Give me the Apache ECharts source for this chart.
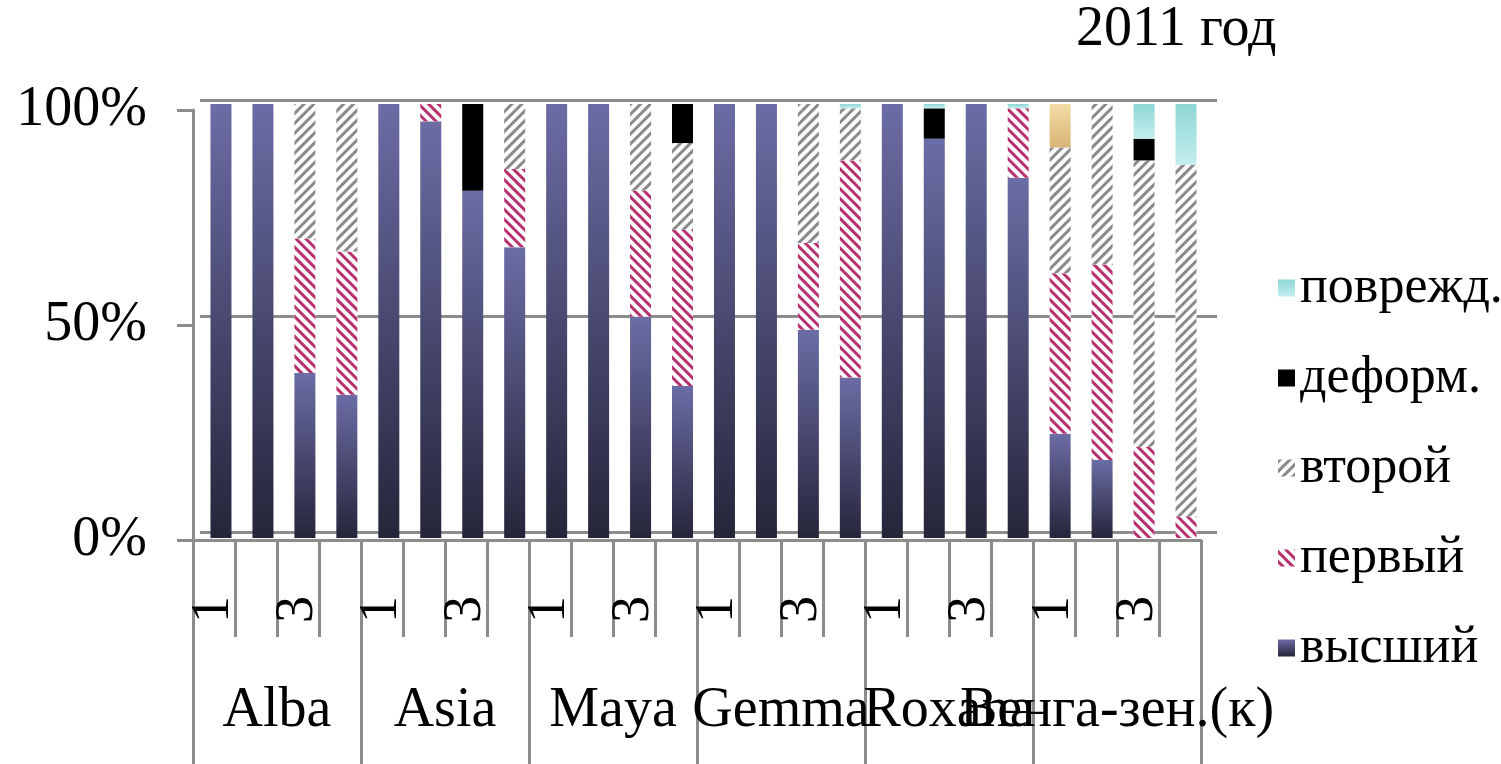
<!DOCTYPE html>
<html>
<head>
<meta charset="utf-8">
<script src="https://cdn.jsdelivr.net/npm/echarts@6/dist/echarts.min.js"></script>
<style>
html,body{margin:0;padding:0;background:#fff;}
#chart{width:1501px;height:764px;}
</style>
</head>
<body>
<div id="chart"></div>
<script>
// ---- data ----
const groups = ['Alba', 'Asia', 'Maya', 'Gemma', 'Roxana', 'Венга-зен.(к)'];
const subLabels = ['1', '2', '3', '4'];
const yTicks = [0, 50, 100];
const title = '2011 год';

const vysshiy = [100,100,38,33, 100,96,80,67, 100,100,51,35, 100,100,48,37, 100,92,100,83, 24,18,0,0];
const perviy  = [0,0,31,33,     0,4,0,18,     0,0,29,36,     0,0,20,50,     0,0,0,16,     37,45,21,5];
const vtoroy  = [0,0,31,34,     0,0,0,15,     0,0,20,20,     0,0,32,12,     0,0,0,0,      29,37,66,81];
const deform  = [0,0,0,0,       0,0,20,0,     0,0,0,9,       0,0,0,0,       0,7,0,0,      0,0,5,0];
const povrezh = [0,0,0,0,       0,0,0,0,      0,0,0,0,       0,0,0,1,       0,1,0,1,      0,0,8,14];
const prochie = [0,0,0,0,       0,0,0,0,      0,0,0,0,       0,0,0,0,       0,0,0,0,      10,0,0,0];

// ---- build ----
const cats = [];
groups.forEach(g => subLabels.forEach(s => cats.push(s)));

const FONT = 'Liberation Serif';
const GRAY = '#8c8c8c';

function vgrad(top, bottom) {
  return new echarts.graphic.LinearGradient(0, 0, 0, 1, [
    {offset: 0, color: top}, {offset: 1, color: bottom}
  ]);
}

const barW = 21;
function barSeries(name, data, itemStyle) {
  return {
    name: name, type: 'bar', stack: 'all', data: data,
    xAxisIndex: 0, yAxisIndex: 0, barWidth: barW,
    itemStyle: itemStyle, emphasis: {disabled: true}
  };
}

const chart = echarts.init(document.getElementById('chart'), null, {renderer: 'canvas'});
chart.setOption({
  animation: false,
  backgroundColor: '#ffffff',
  title: {
    text: title, left: 1076, top: 2, padding: 0,
    textStyle: {fontFamily: FONT, fontSize: 56, fontWeight: 'normal', color: '#000'}
  },
  legend: {
    orient: 'vertical', left: 1278, top: 262, padding: 0,
    icon: 'rect',
    itemWidth: 17, itemHeight: 17, itemGap: 38,
    data: ['поврежд.', 'деформ.', 'второй', 'первый', 'высший'],
    textStyle: {fontFamily: FONT, fontSize: 52, color: '#000', padding: [0,0,0,0]}
  },
  grid: [
    {left: 200, right: 294, top: 104, bottom: 226},  // bars (back plane)
    {left: 193, right: 300, top: 110, bottom: 224},  // front axes
    {left: 200, right: 284, top: 100, bottom: 232}   // back wall
  ],
  xAxis: [
    {gridIndex: 0, type: 'category', data: cats, show: false},
    {gridIndex: 1, type: 'category', data: cats, position: 'bottom',
      axisLine: {show: true, lineStyle: {color: GRAY, width: 3}},
      axisTick: {show: true, interval: 0, length: 97, lineStyle: {color: GRAY, width: 3}},
      axisLabel: {interval: 1, rotate: 90, margin: 56, fontFamily: FONT, fontSize: 54, color: '#000'}
    },
    {gridIndex: 1, type: 'category', data: groups, position: 'bottom',
      axisLine: {show: false},
      axisTick: {show: true, interval: 0, length: 224, lineStyle: {color: GRAY, width: 3}},
      axisLabel: {interval: 0, margin: 143, fontFamily: FONT, fontSize: 56, color: '#000'}
    },
    {gridIndex: 2, type: 'category', data: cats, show: false}
  ],
  yAxis: [
    {gridIndex: 0, type: 'value', min: 0, max: 100, interval: 50, show: false},
    {gridIndex: 1, type: 'value', min: 0, max: 100, interval: 50,
      axisLine: {show: true, lineStyle: {color: GRAY, width: 3}},
      axisTick: {show: true, length: 16, lineStyle: {color: GRAY, width: 3}},
      splitLine: {show: false},
      axisLabel: {margin: 46, fontFamily: FONT, fontSize: 56, color: '#000',
        formatter: v => (yTicks.indexOf(v) >= 0 ? v + '%' : '')}
    },
    {gridIndex: 2, type: 'value', min: 0, max: 100, interval: 50,
      axisLine: {show: false}, axisTick: {show: false}, axisLabel: {show: false},
      splitLine: {show: true, lineStyle: {color: GRAY, width: 3}}
    }
  ],
  series: [
    barSeries('высший', vysshiy, {color: vgrad('#6C6CA6', '#25253A')}),
    barSeries('первый', perviy, {
      color: '#ffffff',
      decal: {symbol: 'rect', symbolSize: 1, color: '#B8306E',
        dashArrayX: [1, 0], dashArrayY: [3, 4], rotation: Math.PI / 4}
    }),
    barSeries('второй', vtoroy, {
      color: '#ffffff',
      decal: {symbol: 'rect', symbolSize: 1, color: '#8a8a8a',
        dashArrayX: [1, 0], dashArrayY: [3, 4], rotation: -Math.PI / 4}
    }),
    barSeries('деформ.', deform, {color: '#000000'}),
    barSeries('поврежд.', povrezh, {color: vgrad('#8FD6D6', '#C4EEEE')}),
    barSeries('прочие', prochie, {color: vgrad('#F3DCA6', '#D8B476')})
  ]
});
</script>
</body>
</html>
